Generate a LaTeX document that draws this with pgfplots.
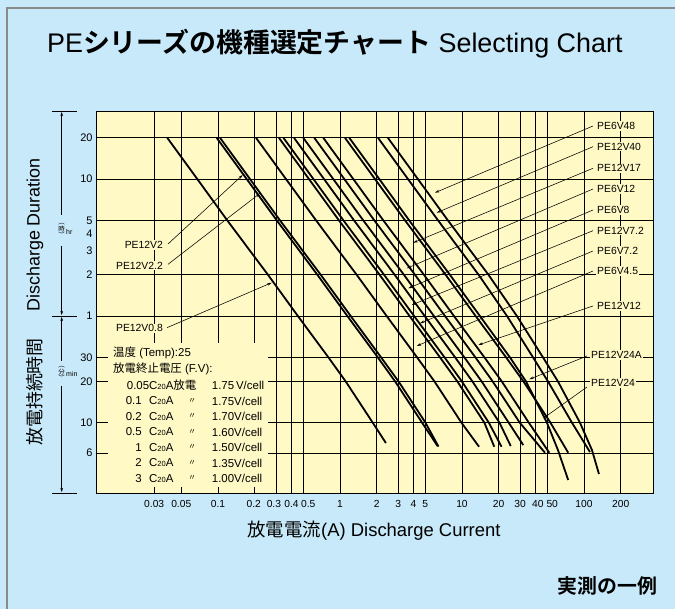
\documentclass[border=0pt]{standalone}
\usepackage{pgfplots}
\pgfplotsset{compat=1.18}
\usetikzlibrary{arrows.meta}
\usepackage{fontspec}
\setmainfont{Liberation Sans}
\newfontfamily\jp{Noto Sans CJK JP}[BoldFont={Noto Sans CJK JP Bold}]
\definecolor{bgblue}{HTML}{C8E9F9}
\definecolor{plotyellow}{HTML}{FFF9C6}
\definecolor{bordergray}{HTML}{8A8A8A}
\newcommand{\Cz}{C{\fontsize{7.5}{8}\selectfont 20}A}
\begin{document}
\begin{tikzpicture}
\fill[bgblue] (0,0) rectangle (675bp,609bp);
\useasboundingbox (0,0) rectangle (675bp,609bp);
\draw[bordergray, line width=1.4bp] (7bp,0) -- (7bp,601bp) -- (675bp,601bp);

\begin{axis}[
  at={(96bp,116bp)}, anchor=south west,
  scale only axis, width=557bp, height=382bp,
  xmode=log, ymode=log,
  xmin=0.01, xmax=368, ymin=0.0511, ymax=31.4,
  axis background/.style={fill=plotyellow},
  axis line style={black, line width=0.9bp},
  xtick={0.03,0.05,0.1,0.2,0.3,0.4,0.5,1,2,3,4,5,10,20,30,40,50,100,200},
  xticklabels={0.03,0.05,0.1,{\kern-1bp 0.2\kern1bp},{\kern-2.3bp 0.3\kern2.3bp},0.4,{\kern5bp 0.5\kern-5bp},1,2,3,4,5,10,20,30,{\kern2.5bp 40\kern-2.5bp},{\kern5bp 50\kern-5bp},100,200},
  ytick={0.1,0.166667,0.333333,0.5,1,2,5,10,20},
  yticklabels={6,10,20,30,1,2,5,10,20},
  extra y ticks={3,4}, extra y tick labels={3,4},
  extra y tick style={grid=none},
  major tick length=0pt,
  xmajorgrids, ymajorgrids,
  major grid style={black, line width=0.8bp},
  xticklabel style={font=\fontsize{10.3}{12}\selectfont, yshift=-4bp},
  yticklabel style={font=\fontsize{11}{12}\selectfont},
  clip=true,
]
% PE12V0.8
\addplot[black, line width=1.8bp] coordinates {(0.0384,20) (0.0677,10) (0.119,5) (0.257,2) (0.452,1) (0.803,0.5) (1.114,0.3333) (1.855,0.1667) (2.38,0.1183)};
% PE12V2
\addplot[black, line width=1.8bp] coordinates {(0.0976,20) (0.172,10) (0.303,5) (0.653,2) (1.15,1) (2.04,0.5) (2.83,0.3333) (4.71,0.1667) (6.31,0.1125)};
% PE12V2.2
\addplot[black, line width=1.8bp] coordinates {(0.104,20) (0.183,10) (0.322,5) (0.696,2) (1.225,1) (2.17,0.5) (3.02,0.3333) (5.02,0.1667) (6.42,0.1115)};
% PE6V4.5
\addplot[black, line width=1.8bp] coordinates {(0.205,20) (0.361,10) (0.636,5) (1.371,2) (2.415,1) (4.28,0.5) (5.95,0.3333) (9.90,0.1667) (13.8,0.1112)};
% PE6V7.2
\addplot[black, line width=1.8bp] coordinates {(0.316,20) (0.557,10) (0.980,5) (2.114,2) (3.72,1) (6.60,0.5) (9.16,0.3333) (15.26,0.1667) (18.4,0.1112)};
% PE12V7.2
\addplot[black, line width=1.8bp] coordinates {(0.344,20) (0.606,10) (1.066,5) (2.30,2) (4.05,1) (7.19,0.5) (9.98,0.3333) (16.6,0.1667) (21.1,0.1112)};
% PE6V8
\addplot[black, line width=1.8bp] coordinates {(0.42,20) (0.740,10) (1.302,5) (2.81,2) (4.95,1) (8.78,0.5) (12.18,0.3333) (20.3,0.1667) (25.1,0.1125)};
% PE6V12
\addplot[black, line width=1.8bp] coordinates {(0.50,20) (0.881,10) (1.55,5) (3.345,2) (5.89,1) (10.45,0.5) (14.5,0.3333) (24.15,0.1667) (31.8,0.1144)};
% PE12V12
\addplot[black, line width=1.8bp] coordinates {(0.616,20) (1.085,10) (1.91,5) (4.12,2) (7.26,1) (12.87,0.5) (17.86,0.3333) (29.75,0.1667) (47.9,0.1005)};
% PE12V17
\addplot[black, line width=1.8bp] coordinates {(0.73,20) (1.286,10) (2.263,5) (4.88,2) (8.60,1) (15.26,0.5) (21.2,0.3333) (35.3,0.1667) (52.0,0.1005)};
% PE12V24
\addplot[black, line width=1.8bp] coordinates {(1.099,20) (1.936,10) (3.41,5) (7.35,2) (12.95,1) (22.97,0.5) (31.9,0.3333) (53.1,0.1667) (74.3,0.1005)};
% PE12V24A
\addplot[black, line width=1.8bp] coordinates {(1.192,20) (2.10,10) (3.69,5) (7.97,2) (14.04,1) (24.7,0.5) (33.5,0.3333) (49.7,0.1667) (61.2,0.1052) (74.3,0.0635)};
% PE12V40
\addplot[black, line width=1.8bp] coordinates {(2.05,20) (3.61,10) (6.36,5) (13.7,2) (23.4,1) (38.2,0.5) (50.7,0.3333) (79.7,0.1667) (112,0.1017)};
% PE6V48
\addplot[black, line width=1.8bp] coordinates {(2.47,20) (4.35,10) (7.66,5) (16.5,2) (28.2,1) (46.1,0.5) (61.2,0.3333) (92.7,0.1667) (116.3,0.1052) (132.7,0.0703)};
\end{axis}

\begin{scope}[shift={(0bp,609bp)}, x=1bp, y=-1bp]
% title
\node[anchor=base west, inner sep=0, font=\fontsize{27}{30}\selectfont] at (47,53)
  {PE{\jp\bfseries シリーズの機種選定チャート} Selecting Chart};
% axis titles
\node[font=\fontsize{18.5}{20}\selectfont] at (374,531) {{\jp 放電電流}(A) Discharge Current};
\node[rotate=90, font=\fontsize{18}{20}\selectfont] at (35,235) {Discharge Duration};
\node[rotate=90, font=\fontsize{18}{20}\selectfont] at (35,392) {\jp 放電持続時間};
\node[anchor=east, font=\jp\bfseries\fontsize{20}{22}\selectfont] at (661,586) {実測の一例};
% left scale markers
\draw[black, line width=0.6bp] (52,111) -- (77,111);
\draw[black, line width=0.6bp] (52,316) -- (77,316);
\draw[black, line width=0.6bp] (52,493) -- (77,493);
\draw[-{Stealth[length=4bp,width=2.6bp]}, line width=0.5bp] (61.7,215) -- (61.7,112);
\draw[-{Stealth[length=4bp,width=2.6bp]}, line width=0.5bp] (61.7,246) -- (61.7,315);
\draw[-{Stealth[length=4bp,width=2.6bp]}, line width=0.5bp] (61.7,361) -- (61.7,317);
\draw[-{Stealth[length=4bp,width=2.6bp]}, line width=0.5bp] (61.7,386) -- (61.7,492);
\node[align=center, inner sep=0, font=\jp\fontsize{6.5}{6.8}\selectfont] at (61.7,230.5) {︵\\時\\︶};
\node[anchor=west, inner sep=0, font=\fontsize{7}{8}\selectfont] at (66,232) {hr};
\node[align=center, inner sep=0, font=\jp\fontsize{6.5}{6.8}\selectfont] at (61.7,373.5) {︵\\分\\︶};
\node[anchor=west, inner sep=0, font=\fontsize{7}{8}\selectfont] at (66,374) {min};
% note box
\fill[plotyellow] (108,343) rectangle (268,487);
\begin{scope}[every node/.style={inner sep=0, font=\fontsize{11.5}{13}\selectfont}]
\node[anchor=west] at (113,353) {{\jp 温度} (Temp):25};
\node[anchor=west] at (113,369) {{\jp 放電終止電圧} (F.V):};
\node[anchor=west] at (126.7,385.5) {0.05\Cz{\jp 放電}};
\node[anchor=west] at (211.7,385.5) {1.75\,V/cell};
\foreach \n/\v/\yy in {0.1/1.75/401, 0.2/1.70/416.5, 0.5/1.60/432, 1/1.50/447.5, 2/1.35/463, 3/1.00/478.5}{
  \node[anchor=east] at (142,\yy) {\n};
  \node[anchor=west] at (149,\yy) {\Cz};
  \node[font=\jp\fontsize{8}{9}\selectfont] at (192,\yy) {〃};
  \node[anchor=west] at (211.7,\yy) {\v V/cell};
}
\end{scope}
% curve labels
\begin{scope}[every node/.style={fill=plotyellow, inner sep=1bp, font=\fontsize{10.4}{12}\selectfont},
  arr/.style={-{Stealth[length=4.5bp,width=2.6bp]}, line width=0.55bp}]
\draw[arr] (593,126) -- (435,192.7);
\node[anchor=west] at (596,126) {PE6V48};
\draw[arr] (593,146.7) -- (436.7,212.7);
\node[anchor=west] at (596,146.7) {PE12V40};
\draw[arr] (593,168.3) -- (413.3,242.7);
\node[anchor=west] at (596,168.3) {PE12V17};
\draw[arr] (593,189) -- (406.7,268.3);
\node[anchor=west] at (596,189) {PE6V12};
\draw[arr] (593,210) -- (408.3,288.3);
\node[anchor=west] at (596,210) {PE6V8};
\draw[arr] (593,230.7) -- (411.7,305);
\node[anchor=west] at (596,230.7) {PE12V7.2};
\draw[arr] (593,251) -- (420,323.3);
\node[anchor=west] at (596,251) {PE6V7.2};
\draw[arr] (593,271) -- (416.7,346);
\node[anchor=west] at (596,271) {PE6V4.5};
\draw[arr] (593,306) -- (478.3,345);
\node[anchor=west] at (596,306) {PE12V12};
\draw[arr] (587,356) -- (529.3,379.3);
\node[anchor=west] at (590,355) {PE12V24A};
\draw[arr] (587,387) -- (543.3,418.3);
\node[anchor=west] at (590,383) {PE12V24};
\draw[arr] (168,244) -- (242.7,175);
\node[anchor=east] at (164,245) {PE12V2};
\draw[arr] (168,264.3) -- (260,193.3);
\node[anchor=east] at (164,265.7) {PE12V2.2};
\draw[arr] (167,327.7) -- (271.7,282.7);
\node[anchor=east] at (164,328.3) {PE12V0.8};
\end{scope}
\end{scope}
\end{tikzpicture}
\end{document}
